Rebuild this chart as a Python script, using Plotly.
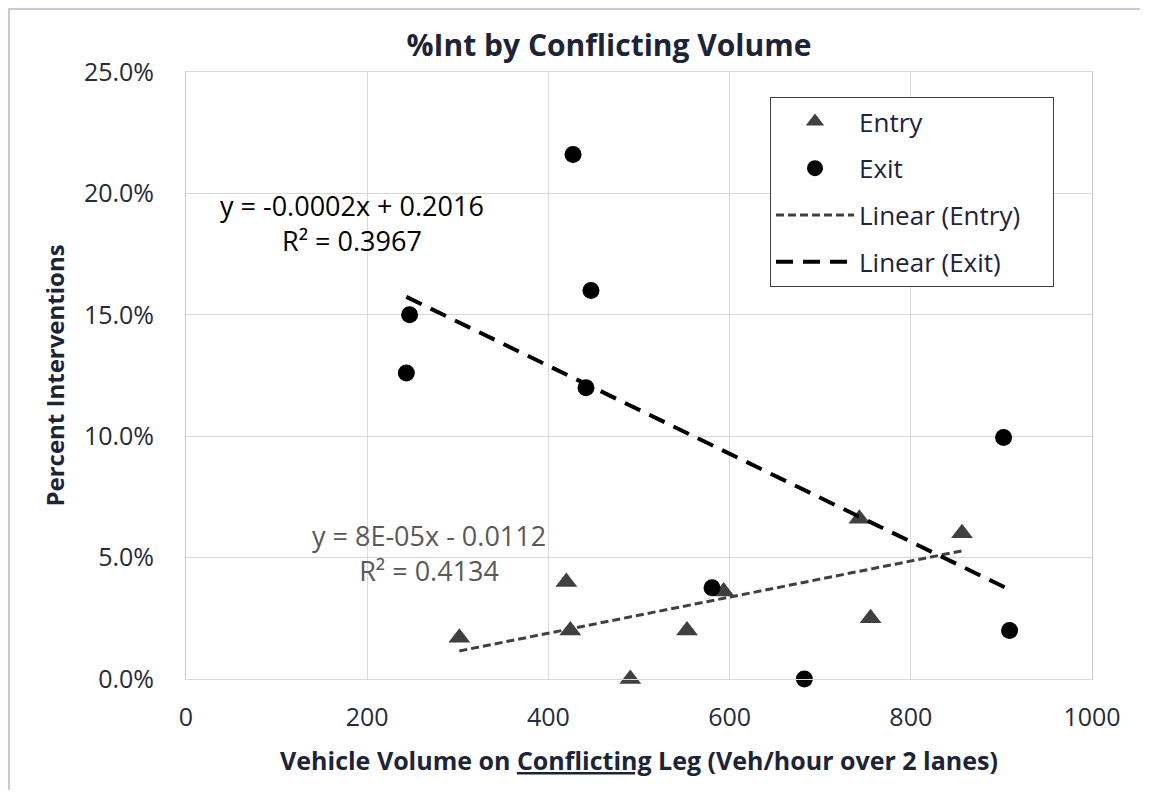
import numpy as np
import plotly.graph_objects as go

# data
entry_x = [419.8, 424.2, 301.7, 490.4, 553.0, 593.4, 743.2, 755.6, 856.5]
entry_y = [0.040, 0.020, 0.017, 0.000, 0.020, 0.036, 0.066, 0.025, 0.060]
exit_x = [427.2, 447.0, 246.8, 243.2, 441.5, 580.6, 682.5, 902.4, 909.0]
exit_y = [0.216, 0.160, 0.150, 0.126, 0.120, 0.0376, 0.000, 0.0995, 0.020]

x_ticks = [0, 200, 400, 600, 800, 1000]
y_ticks = [0.0, 0.05, 0.10, 0.15, 0.20, 0.25]

entry_eq = "y = 8E-05x - 0.0112<br>R² = 0.4134"
exit_eq = "y = -0.0002x + 0.2016<br>R² = 0.3967"

# page body has an 8px margin, so the figure is made smaller to avoid scrollbars
OFF = 8
W, H = 1151 - 2 * OFF, 810 - 2 * OFF - 12
L, T = 186 - OFF, 72 - OFF
R = W - L - 906
B = H - T - 607
pw, ph = W - L - R, H - T - B


def trend(xs, ys):
    # least squares line over the data range, like an Excel linear trendline
    m, c = np.polyfit(xs, ys, 1)
    tx = [min(xs), max(xs)]
    return tx, [m * v + c for v in tx]


FONT = "Open Sans"
TXT = "#262b38"
DARK = "#1c2438"
PAD = "\u00a0" * 4

fig = go.Figure()

fig.add_trace(go.Scatter(x=entry_x, y=entry_y, mode="markers", name="Entry",
                         legendgroup="a", cliponaxis=False,
                         marker=dict(symbol="triangle-up", size=19, color="#404040")))
fig.add_trace(go.Scatter(x=exit_x, y=exit_y, mode="markers", name="Exit",
                         legendgroup="b", cliponaxis=False,
                         marker=dict(symbol="circle", size=17, color="#000000")))

tx, ty = trend(entry_x, entry_y)
fig.add_trace(go.Scatter(x=tx, y=ty, mode="lines", name="Linear (Entry)" + PAD,
                         legendgroup="c",
                         line=dict(color="#404040", width=3, dash="8px,4px")))
tx, ty = trend(exit_x, exit_y)
fig.add_trace(go.Scatter(x=tx, y=ty, mode="lines", name="Linear (Exit)",
                         legendgroup="d",
                         line=dict(color="#000000", width=4, dash="17px,10px")))

fig.add_annotation(x=183, y=0.188, text=exit_eq, showarrow=False,
                   font=dict(family=FONT, size=27, color="#000000"), align="center")
fig.add_annotation(x=268, y=0.052, text=entry_eq, showarrow=False,
                   font=dict(family=FONT, size=27, color="#595959"), align="center")

# light frame of the chart area (only left and top edges visible in the crop)
bx0 = (1 - L) / pw
by0 = (T + ph - 1) / ph
fig.add_shape(type="path", xref="paper", yref="paper",
              path=f"M {bx0},{-B / ph} L {bx0},{by0} L {(W - 3 - L) / pw},{by0}",
              line=dict(color="#c5cad8", width=2))

fig.update_layout(
    width=W, height=H,
    margin=dict(l=L, r=R, t=T, b=B, autoexpand=False),
    paper_bgcolor="white", plot_bgcolor="white",
    font=dict(family=FONT, size=25, color=TXT),
    title=dict(text="<b>%Int by Conflicting Volume</b>", x=(609 - OFF) / W, y=1 - (45 - OFF) / H,
               xref="container", yref="container", xanchor="center", yanchor="middle",
               font=dict(family=FONT, size=30, color=DARK)),
    showlegend=True,
    legend=dict(x=(770 - 186) / pw, y=(679 - 97) / ph, xanchor="left", yanchor="top",
                bordercolor="#404040", borderwidth=1, bgcolor="white",
                traceorder="grouped", tracegroupgap=10, itemwidth=78,
                font=dict(family=FONT, size=26, color=DARK)),
)

fig.update_xaxes(range=[0, 1000], tickvals=x_ticks, ticktext=[str(v) for v in x_ticks],
                 showgrid=True, gridcolor="#d9d9d9", gridwidth=1,
                 showline=True, linecolor="#d9d9d9", mirror=True, zeroline=False,
                 ticks="", ticklabelstandoff=16, automargin=False,
                 tickfont=dict(family=FONT, size=25, color=TXT),
                 title=dict(text="<b>Vehicle Volume on <u>Conflicting</u> Leg (Veh/hour over 2 lanes)</b>",
                            standoff=20, font=dict(family=FONT, size=25, color=DARK)))
fig.update_yaxes(range=[0, 0.25], tickvals=y_ticks, tickformat=".1%",
                 showgrid=True, gridcolor="#d9d9d9", gridwidth=1,
                 showline=True, linecolor="#c8c8c8", mirror=True, zeroline=False,
                 ticks="", ticklabelstandoff=26, automargin=False,
                 tickfont=dict(family=FONT, size=25, color=TXT),
                 title=dict(text="<b>Percent Interventions</b>", standoff=12,
                            font=dict(family=FONT, size=24, color=DARK)))

fig.write_html("out.html")
